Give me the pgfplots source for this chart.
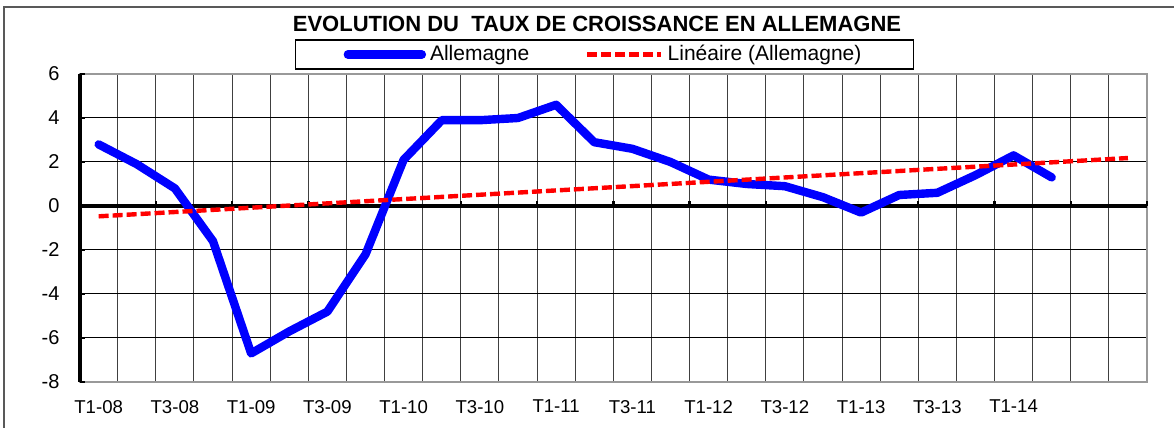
\documentclass[border=0pt]{standalone}
\usepackage{fontspec}
\setmainfont{Liberation Sans}
\usepackage{pgfplots}
\pgfplotsset{compat=1.18}
\usepackage{pgfplotstable}

% quarterly growth, categories centred at 0.5, 1.5, ...
\pgfplotstableread{
x    y
0.5  2.8
1.5  1.9
2.5  0.8
3.5  -1.6
4.5  -6.7
5.5  -5.7
6.5  -4.8
7.5  -2.2
8.5  2.1
9.5  3.9
10.5 3.9
11.5 4.0
12.5 4.6
13.5 2.9
14.5 2.6
15.5 2.0
16.5 1.2
17.5 1.0
18.5 0.9
19.5 0.4
20.5 -0.3
21.5 0.5
22.5 0.6
23.5 1.4
24.5 2.3
25.5 1.3
}\allemagne

\pgfplotstableread{
x    y
0.5  -0.47
27.5 2.18
}\tendance

\begin{document}
\begin{tikzpicture}
\useasboundingbox (-39.8pt,-23pt) rectangle (547.2pt,191pt);
% outer chart frame
\draw[black!65, line width=0.6pt] (-37.8pt,-30pt) -- (-37.8pt,187.5pt) -- (560pt,187.5pt);
\node[font=\bfseries\fontsize{11}{13}\selectfont] at (258.7pt,179pt)
  {EVOLUTION DU\ \ TAUX DE CROISSANCE EN ALLEMAGNE};

\begin{axis}[
  at={(0pt,0pt)}, anchor=south west,
  scale only axis, width=533.7pt, height=154pt,
  clip=false,
  xmin=0, xmax=28, ymin=-8, ymax=6,
  xtick={0.5,2.5,...,24.5},
  xticklabels={T1-08,T3-08,T1-09,T3-09,T1-10,T3-10,T1-11,T3-11,T1-12,T3-12,T1-13,T3-13,T1-14},
  minor xtick={1,2,...,27},
  ytick={-8,-6,...,6},
  yticklabels={-8,-6,-4,-2,0,2,4,6},
  xmajorgrids=false, xminorgrids=true, ymajorgrids=true,
  minor grid style={black!75, line width=0.5pt},
  major grid style={black, line width=0.5pt},
  major tick length=0pt, minor tick length=0pt,
  axis line style={draw=black!40, line width=1pt},
  xticklabel style={font=\fontsize{9.3}{11}\selectfont, yshift=-5.5pt},
  yticklabel style={font=\fontsize{10}{12}\selectfont, xshift=-6.5pt},
  legend columns=2,
  legend style={at={(0.4918,1.0633)}, anchor=center,
    draw=black, line width=0.8pt, inner xsep=24pt, inner ysep=0.5pt,
    font=\fontsize{10.5}{12}\selectfont,
    /tikz/every even column/.append style={column sep=26pt}},
  legend image code/.code={\draw[#1] (0pt,0pt) -- (37pt,0pt);},
]
\draw[black, line width=2pt] (axis cs:0,0) -- (axis cs:28,0);
\pgfplotsinvokeforeach{2,4,...,28}{
  \draw[black, line width=1.2pt] (axis cs:#1,0) -- ++(0pt,2.5pt);
}
\addplot[blue, line width=4.2pt, line join=round, line cap=round] table {\allemagne};
\addplot[red, line width=2.2pt, dash pattern=on 5pt off 2pt] table {\tendance};
\draw[black, line width=2pt] (axis cs:0,-8) -- (axis cs:0,6);
\pgfplotsinvokeforeach{-8,-6,...,6}{
  \draw[black, line width=1.3pt] (axis cs:0,#1) -- ++(2.5pt,0pt);
}
\legend{Allemagne, Linéaire (Allemagne)}
\end{axis}
\end{tikzpicture}
\end{document}
